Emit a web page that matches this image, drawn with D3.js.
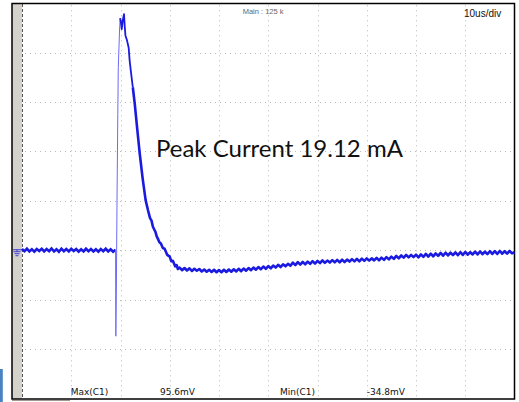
<!DOCTYPE html>
<html>
<head>
<meta charset="utf-8">
<script src="https://cdn.jsdelivr.net/npm/d3@7"></script>
<style>
  html, body { margin: 0; padding: 0; background: #ffffff; }
  svg { display: block; }
</style>
</head>
<body>
<div id="chart"></div>
<script>
// ---------------- DATA ----------------
// time in microseconds, voltage in mV (20 mV/div, 10 us/div)
const timeDomain = [0, 100];
const voltDomain = [-60, 100];
const xGridValues = [10, 20, 30, 40, 50, 60, 70, 80, 90];
const yGridValues = [-40, -20, 0, 20, 40, 60, 80];

// pre-trigger baseline, sampled every 0.5 us from t = 0
const preStart = 0;
const sampleStep = 0.5;
const preValues = [0.5,-0.4,0.6,-0.5,0.4,-0.6,0.5,-0.3,0.6,-0.5,0.5,-0.4,0.7,-0.5,0.4,-0.6,0.6,-0.4,0.5,-0.5,
                   0.6,-0.3,0.5,-0.6,0.4,-0.5,0.6,-0.4,0.5,-0.5,0.4,-0.6,0.5,-0.4,0.6,-0.5,0.4,-0.6];

// fast edge: negative spike, rise and peak
const edgeTimes  = [19.0, 19.05, 19.15, 19.3, 19.45, 19.55, 19.84, 19.94];
const edgeValues = [0.2, -34.8, -18, 22, 55, 74, 91, 94];

// peak and decay
const decayTimes  = [19.94, 20.1, 20.25, 20.45, 20.71, 20.85, 21.0, 21.32, 21.66, 21.85, 22.07, 22.5, 22.88,
                     23.4, 23.89, 24.5, 25.1, 25.57, 26.0, 26.3, 26.58, 27.1, 27.35, 27.6, 27.9, 28.2, 28.6,
                     28.95, 29.5, 30.0, 30.3, 30.63, 31.1, 31.4, 31.65];
const decayValues = [94, 92, 89.5, 93, 95.6, 91, 87, 85, 82, 77, 73, 66, 59.6,
                     49, 39.4, 29, 20.3, 16.3, 13.0, 12.0, 9.5, 7.4, 5.6, 4.6, 3.2, 2.7, 0.9,
                     0.6, -1.9, -2.6, -4.4, -4.3, -6.5, -6.0, -7.6];

// tail, sampled every 0.5 us from t = 32
const tailStart = 32;
const tailValues = [
  -7.0,-8.1,-7.2,-8.2,-7.3,-8.4,-7.5,-8.3,-7.6,-8.6,-7.8,-8.7,-7.9,-8.8,-7.9,-8.9,
  -8.0,-8.9,-7.9,-8.8,-7.8,-8.7,-7.7,-8.6,-7.5,-8.5,-7.4,-8.3,-7.2,-8.1,-7.0,-7.9,
  -6.8,-7.7,-6.6,-7.5,-6.4,-7.3,-6.2,-7.0,-5.9,-6.8,-5.7,-6.5,-5.5,-6.3,-5.0,-6.0,
  -4.8,-5.8,-4.7,-5.7,-4.6,-5.5,-4.4,-5.4,-4.3,-5.2,-4.1,-5.1,-4.2,-5.0,-4.0,-4.9,
  -3.9,-4.9,-3.8,-4.8,-3.8,-4.6,-3.6,-4.5,-3.5,-4.5,-3.4,-4.3,-3.3,-4.2,-3.3,-4.1,
  -3.1,-4.1,-3.0,-3.9,-2.8,-3.7,-2.6,-3.5,-2.3,-3.3,-2.1,-3.0,-1.9,-2.9,-1.9,-2.8,
  -1.8,-2.9,-1.7,-2.7,-1.5,-2.6,-1.4,-2.5,-1.3,-2.3,-1.1,-2.2,-1.0,-2.1,-1.0,-2.0,
  -0.9,-2.0,-0.8,-1.9,-0.7,-1.8,-0.8,-1.7,-0.6,-1.7,-0.5,-1.6,-0.6,-1.6,-0.4,-1.5,
  -0.4,-1.5,-0.3,-1.4,-0.4,-1.4,-0.3,-1.3,-0.8];

const annotationText = "Peak Current 19.12 mA";
const headerText = "Main : 125 k";
const timebaseText = "10us/div";
const measurementLabels = ["Max(C1)", "95.6mV", "Min(C1)", "-34.8mV"];

// ---------------- DRAW ----------------
const W = 519, H = 402;
const svg = d3.select("#chart").append("svg").attr("width", W).attr("height", H);

const plot = { left: 22, right: 514.5, top: 3.3, bottom: 398.4 };
const x = d3.scaleLinear().domain(timeDomain).range([plot.left, plot.right]);
const y = d3.scaleLinear().domain(voltDomain).range([plot.bottom, plot.top]);

// bottom-left blue tab
svg.append("rect").attr("x", 0).attr("y", 369).attr("width", 2.8).attr("height", 33).attr("fill", "#4a83c2");

// left gray strip
svg.append("rect").attr("x", 12).attr("y", 3).attr("width", 10).attr("height", 396).attr("fill", "#d5d2cc");
// plot background
svg.append("rect").attr("x", plot.left).attr("y", plot.top).attr("width", plot.right - plot.left)
  .attr("height", plot.bottom - plot.top).attr("fill", "#ffffff");

// grid
const grid = svg.append("g").attr("stroke", "#b9b9b9").attr("stroke-width", 1).attr("stroke-dasharray", "1,4");
grid.selectAll("line.v").data(xGridValues).join("line").attr("class", "v")
  .attr("x1", d => Math.round(x(d)) + 0.5).attr("x2", d => Math.round(x(d)) + 0.5)
  .attr("y1", plot.top + 2).attr("y2", plot.bottom);
grid.selectAll("line.h").data(yGridValues).join("line").attr("class", "h")
  .attr("y1", d => Math.round(y(d)) + 0.5).attr("y2", d => Math.round(y(d)) + 0.5)
  .attr("x1", plot.left + 3).attr("x2", plot.right);

// dashed left boundary
svg.append("line").attr("x1", 22.5).attr("x2", 22.5).attr("y1", 4).attr("y2", 398)
  .attr("stroke", "#555").attr("stroke-width", 1).attr("stroke-dasharray", "3,2");

// outer frame
svg.append("rect").attr("x", 12).attr("y", 3.5).attr("width", 502.5).attr("height", 395.5)
  .attr("fill", "none").attr("stroke", "#000").attr("stroke-width", 1.5);
svg.append("line").attr("x1", 12).attr("x2", 70).attr("y1", 400.5).attr("y2", 400.5)
  .attr("stroke", "#a09a8e").attr("stroke-width", 1);

// ground marker
const gy = y(0);
const gnd = svg.append("g").attr("stroke", "#3b3bd8").attr("stroke-width", 1);
gnd.append("line").attr("x1", 13).attr("x2", 22).attr("y1", gy - 0.5).attr("y2", gy - 0.5);
gnd.append("line").attr("x1", 17).attr("x2", 17).attr("y1", gy - 0.5).attr("y2", gy + 1.5);
gnd.append("line").attr("x1", 13.5).attr("x2", 20.5).attr("y1", gy + 1.5).attr("y2", gy + 1.5);
gnd.append("line").attr("x1", 14.5).attr("x2", 19.5).attr("y1", gy + 3.5).attr("y2", gy + 3.5);
gnd.append("line").attr("x1", 15.5).attr("x2", 18.5).attr("y1", gy + 5.5).attr("y2", gy + 5.5);

// assemble waveform
const prePts = preValues.map((v, i) => [preStart + i * sampleStep, v]);
const edgePts = edgeTimes.map((t, i) => [t, edgeValues[i]]);
const decayPts = decayTimes.map((t, i) => [t, decayValues[i]]);
const tailPts = tailValues.map((v, i) => [tailStart + i * sampleStep, v]);

const line = d3.line().x(d => x(d[0])).y(d => y(d[1]));
const traceColor = "#1a1ae0";

svg.append("path").datum(prePts.concat([edgePts[0]]))
  .attr("d", line).attr("fill", "none").attr("stroke", traceColor).attr("stroke-width", 2.6);
svg.append("path").datum(edgePts)
  .attr("d", line).attr("fill", "none").attr("stroke", "#6b6bf5").attr("stroke-width", 1);
svg.append("path").datum(decayPts.slice(0, 12))
  .attr("d", line).attr("fill", "none").attr("stroke", traceColor).attr("stroke-width", 1.8)
  .attr("stroke-linejoin", "round");
svg.append("path").datum(decayPts.slice(11).concat(tailPts))
  .attr("d", line).attr("fill", "none").attr("stroke", traceColor).attr("stroke-width", 2.6)
  .attr("stroke-linejoin", "round");

// texts
svg.append("text").attr("x", 242.7).attr("y", 13.5).attr("font-family", "Liberation Sans, Arial, sans-serif")
  .attr("font-size", 7.5).attr("fill", "#666").text(headerText);
svg.append("text").attr("x", 464).attr("y", 16.7).attr("font-family", "Liberation Sans, Arial, sans-serif")
  .attr("font-size", 10).attr("fill", "#111").text(timebaseText);

const ann = svg.append("text").attr("x", 156).attr("y", 156.5)
  .attr("font-family", "Lato, 'Open Sans', sans-serif").attr("font-size", 23).attr("fill", "#111")
  .text(annotationText);
const annW = ann.node().getComputedTextLength();
ann.attr("font-size", 23 * 247 / annW);

const labelX = [70.7, 160, 280, 366.7];
svg.selectAll("text.meas").data(measurementLabels).join("text").attr("class", "meas")
  .attr("x", (d, i) => labelX[i]).attr("y", 394.5)
  .attr("font-family", "DejaVu Sans, Verdana, sans-serif").attr("font-size", 9).attr("fill", "#111")
  .text(d => d);
</script>
</body>
</html>
